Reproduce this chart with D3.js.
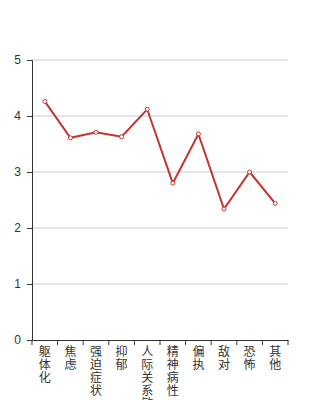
<!DOCTYPE html>
<html>
<head>
<meta charset="utf-8">
<script src="https://cdn.jsdelivr.net/npm/d3@7"></script>
<style>
body { margin: 0; background: #fff; }
svg { font-family: "Noto Sans CJK SC", sans-serif; }
</style>
</head>
<body>
<div id="chart"></div>
<script>
var categories = ["躯体化", "焦虑", "强迫症状", "抑郁", "人际关系敏感", "精神病性", "偏执", "敌对", "恐怖", "其他"];
var values = [4.26, 3.61, 3.71, 3.63, 4.12, 2.80, 3.68, 2.34, 3.00, 2.44];
var yTicks = [0, 1, 2, 3, 4, 5];

var width = 320,
    height = 400,
    margin = {top: 60, right: 32, bottom: 60, left: 32};

var svg = d3.select("#chart").append("svg")
    .attr("width", width)
    .attr("height", height);

var x = d3.scaleBand()
    .domain(categories)
    .range([margin.left, width - margin.right]);

var y = d3.scaleLinear()
    .domain([0, 5])
    .range([height - margin.bottom, margin.top]);

// grid
svg.append("g")
    .selectAll("line")
    .data(yTicks.slice(1))
    .enter().append("line")
    .attr("x1", margin.left)
    .attr("x2", width - margin.right)
    .attr("y1", function(d) { return y(d); })
    .attr("y2", function(d) { return y(d); })
    .attr("stroke", "#ccc")
    .attr("stroke-width", 1);

// y axis
var yAxis = svg.append("g")
    .attr("transform", "translate(" + margin.left + ",0)")
    .call(d3.axisLeft(y).tickValues(yTicks).tickFormat(d3.format("d")).tickSize(5).tickPadding(6));
yAxis.select(".domain").attr("stroke", "#333");
yAxis.selectAll(".tick line").attr("stroke", "#333");
yAxis.selectAll(".tick text").attr("fill", "#333").style("font-size", "12px");

// x axis
var xAxis = svg.append("g")
    .attr("transform", "translate(0," + y(0) + ")")
    .call(d3.axisBottom(x).tickSizeOuter(0).tickSize(0).tickFormat(""));
xAxis.select(".domain").attr("stroke", "#333");

// band boundary ticks
var bounds = categories.map(function(c) { return x(c); }).concat([width - margin.right]);
svg.append("g")
    .selectAll("line")
    .data(bounds)
    .enter().append("line")
    .attr("x1", function(d) { return d; })
    .attr("x2", function(d) { return d; })
    .attr("y1", y(0))
    .attr("y2", y(0) + 5)
    .attr("stroke", "#333");

// vertical labels
var labels = svg.append("g")
    .selectAll("text")
    .data(categories)
    .enter().append("text")
    .attr("x", function(d) { return x(d) + x.bandwidth() / 2; })
    .attr("y", y(0) + 16)
    .attr("text-anchor", "middle")
    .attr("fill", "#333")
    .style("font-size", "12px");

labels.each(function(d) {
    var t = d3.select(this);
    d.split("").forEach(function(ch, i) {
        t.append("tspan")
            .attr("x", x(d) + x.bandwidth() / 2)
            .attr("dy", i === 0 ? 0 : 13)
            .text(ch);
    });
});

// line
var line = d3.line()
    .x(function(d, i) { return x(categories[i]) + x.bandwidth() / 2; })
    .y(function(d) { return y(d); });

svg.append("path")
    .datum(values)
    .attr("fill", "none")
    .attr("stroke", "#c23531")
    .attr("stroke-width", 2)
    .attr("d", line);

svg.append("g")
    .selectAll("circle")
    .data(values)
    .enter().append("circle")
    .attr("cx", function(d, i) { return x(categories[i]) + x.bandwidth() / 2; })
    .attr("cy", function(d) { return y(d); })
    .attr("r", 2)
    .attr("fill", "#fff")
    .attr("stroke", "#c23531")
    .attr("stroke-width", 1);
</script>
</body>
</html>
